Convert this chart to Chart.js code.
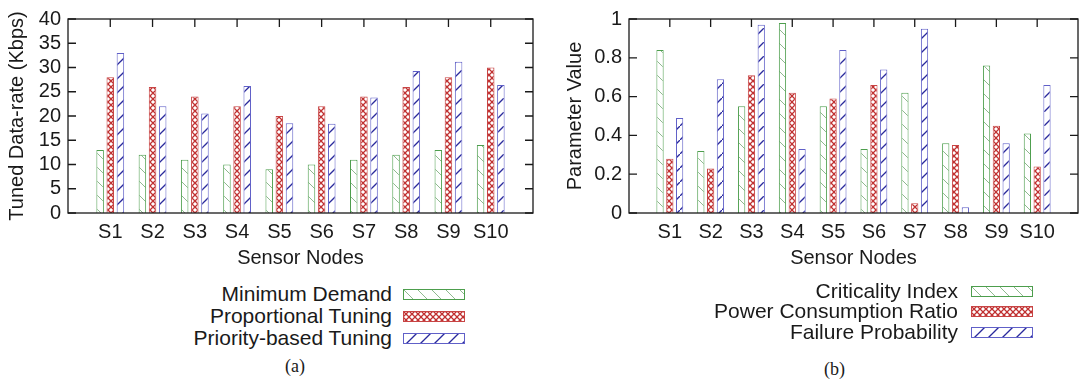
<!DOCTYPE html>
<html>
<head>
<meta charset="utf-8">
<script src="https://cdn.jsdelivr.net/npm/chart.js@4.4.1/dist/chart.umd.min.js"></script>
<style>
  body { margin: 0; width: 1081px; height: 386px; overflow: hidden; background: #fff; position: relative; }
  canvas { position: absolute; top: 0; }
  .lg { position: absolute; font: 21px "Liberation Sans", Arial, sans-serif; color: #1a1a1a; text-align: right; white-space: nowrap; height: 24px; line-height: 24px; }
  .cap { position: absolute; font: 18px "Liberation Serif", "Times New Roman", serif; color: #1a1a1a; }
</style>
</head>
<body>
<canvas id="chartA" width="540" height="280" style="left:0"></canvas>
<canvas id="chartB" width="545" height="280" style="left:540px"></canvas>
<div class="cap" style="left:285px;top:356px">(a)</div>
<div class="cap" style="left:824px;top:359px">(b)</div>
<script>
const nodes = ['S1', 'S2', 'S3', 'S4', 'S5', 'S6', 'S7', 'S8', 'S9', 'S10'];

// (a) tuned data-rate, Kbps
const minDemand = [13, 12, 11, 10, 9, 10, 11, 12, 13, 14];
const propTuning = [28, 26, 24, 22, 20, 22, 24, 26, 28, 30];
const prioTuning = [33, 22, 20.5, 26.2, 18.5, 18.4, 23.8, 29.3, 31.2, 26.4];

// (b) parameter values
const criticality = [0.84, 0.32, 0.55, 0.98, 0.55, 0.33, 0.62, 0.36, 0.76, 0.41];
const powerRatio = [0.28, 0.23, 0.71, 0.62, 0.59, 0.66, 0.05, 0.35, 0.45, 0.24];
const failureProb = [0.49, 0.69, 0.97, 0.33, 0.84, 0.74, 0.95, 0.03, 0.36, 0.66];

const FONT = '"Liberation Sans", Arial, sans-serif';

function makePattern(kind) {
    const c = document.createElement('canvas');
    const s = kind === 'cross' ? 6 : 14;
    c.width = s; c.height = s;
    const g = c.getContext('2d');
    g.fillStyle = '#fff';
    g.fillRect(0, 0, s, s);
    g.beginPath();
    if (kind === 'back') {
        g.strokeStyle = '#8fb98f'; g.lineWidth = 1;
        g.moveTo(-1, -1); g.lineTo(s + 1, s + 1);
    } else if (kind === 'fwd') {
        g.strokeStyle = '#2a2a9c'; g.lineWidth = 1.3;
        g.moveTo(-1, s + 1); g.lineTo(s + 1, -1);
    } else {
        g.strokeStyle = '#c03030'; g.lineWidth = 1.3;
        g.moveTo(-1, -1); g.lineTo(s + 1, s + 1);
        g.moveTo(-1, s + 1); g.lineTo(s + 1, -1);
    }
    g.stroke();
    return g.createPattern(c, 'repeat');
}

const styles = [
    { kind: 'back', border: '#4d9e4d' },
    { kind: 'cross', border: '#c84444' },
    { kind: 'fwd', border: '#6060c8' },
];

// gnuplot style frame with inward ticks
const frameTicks = {
    id: 'frameTicks',
    afterDatasetsDraw(chart) {
        const { ctx, chartArea: a, scales } = chart;
        ctx.save();
        ctx.strokeStyle = '#1a1a1a';
        ctx.lineWidth = 1.3;
        ctx.strokeRect(a.left, a.top, a.right - a.left, a.bottom - a.top);
        ctx.beginPath();
        scales.y.ticks.forEach(t => {
            const py = scales.y.getPixelForValue(t.value);
            ctx.moveTo(a.left, py); ctx.lineTo(a.left + 8, py);
            ctx.moveTo(a.right, py); ctx.lineTo(a.right - 8, py);
        });
        nodes.forEach((n, i) => {
            const px = scales.x.getPixelForValue(i);
            ctx.moveTo(px, a.top); ctx.lineTo(px, a.top + 8);
        });
        ctx.stroke();
        ctx.restore();
    }
};

function buildChart(id, names, series, yMin, yMax, yStep, yTitle, yWidth, titlePad, padRight) {
    const datasets = series.map((vals, k) => ({
        label: names[k],
        data: vals.map((v, i) => ({ x: i, y: v })),
        backgroundColor: makePattern(styles[k].kind),
        borderColor: styles[k].border,
        borderWidth: 1,
        categoryPercentage: 0.72,
        barPercentage: 0.74,
    }));
    return new Chart(document.getElementById(id), {
        type: 'bar',
        data: { datasets },
        plugins: [frameTicks],
        options: {
            responsive: false,
            animation: false,
            layout: { padding: { top: 12, right: padRight, left: 0, bottom: 0 } },
            plugins: { legend: { display: false }, tooltip: { enabled: false } },
            scales: {
                x: {
                    type: 'linear',
                    offset: false,
                    min: -1,
                    max: 10,
                    grid: { display: false, drawTicks: false },
                    border: { display: false },
                    afterFit: s => { s.height = 67; },
                    ticks: {
                        stepSize: 1,
                        autoSkip: false,
                        maxRotation: 0,
                        padding: 7,
                        color: '#1a1a1a',
                        font: { family: FONT, size: 20 },
                        callback: v => nodes[v] || '',
                    },
                    title: {
                        display: true,
                        text: 'Sensor Nodes',
                        color: '#1a1a1a',
                        font: { family: FONT, size: 20 },
                        padding: { bottom: 10 },
                    },
                },
                y: {
                    min: yMin,
                    max: yMax,
                    grid: { display: false, drawTicks: false },
                    border: { display: false },
                    afterFit: s => { s.width = yWidth; },
                    ticks: {
                        stepSize: yStep,
                        autoSkip: false,
                        padding: 7,
                        color: '#1a1a1a',
                        font: { family: FONT, size: 20 },
                        callback: v => String(Math.round(v * 100) / 100),
                    },
                    title: {
                        display: true,
                        text: yTitle,
                        color: '#1a1a1a',
                        font: { family: FONT, size: 20 },
                        padding: { top: titlePad },
                    },
                },
            },
        },
    });
}

function buildLegend(names, textRight, swatchLeft, rows) {
    names.forEach((name, k) => {
        const t = document.createElement('div');
        t.className = 'lg';
        t.textContent = name;
        t.style.left = (textRight - 300) + 'px';
        t.style.width = '300px';
        t.style.top = (rows[k] - 12) + 'px';
        document.body.appendChild(t);

        const c = document.createElement('canvas');
        c.width = 62; c.height = 11;
        c.style.left = swatchLeft + 'px';
        c.style.top = (rows[k] - 5) + 'px';
        const g = c.getContext('2d');
        g.fillStyle = makePattern(styles[k].kind);
        g.fillRect(0, 0, 62, 11);
        g.strokeStyle = styles[k].border;
        g.lineWidth = 1;
        g.strokeRect(0.5, 0.5, 61, 10);
        document.body.appendChild(c);
    });
}

const namesA = ['Minimum Demand', 'Proportional Tuning', 'Priority-based Tuning'];
const namesB = ['Criticality Index', 'Power Consumption Ratio', 'Failure Probability'];

buildChart('chartA', namesA, [minDemand, propTuning, prioTuning],
    0, 40, 5, 'Tuned Data-rate (Kbps)', 68, 5, 6);
buildChart('chartB', namesB, [criticality, powerRatio, failureProb],
    0, 1, 0.2, 'Parameter Value', 89, 23, 2);

buildLegend(namesA, 392, 403, [294, 316, 338]);
buildLegend(namesB, 958, 971, [291, 311, 332]);
</script>
</body>
</html>
